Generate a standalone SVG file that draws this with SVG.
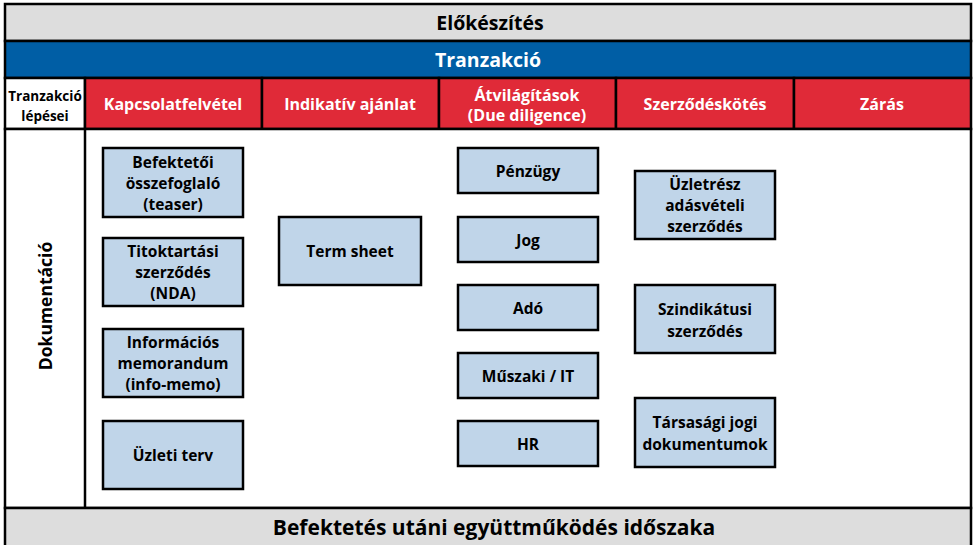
<svg xmlns="http://www.w3.org/2000/svg" width="973" height="545" viewBox="0 0 973 545">
<style>
text{font-family:"Open Sans",Lato,"Liberation Sans",sans-serif;font-weight:bold;text-anchor:middle;dominant-baseline:central}
.band{stroke:#000;stroke-width:2.5}
.hdr{fill:#E02A38;stroke:#000;stroke-width:2.5}
.hw{fill:#fff;font-size:16px}
.box rect{fill:#C0D5E9;stroke:#000;stroke-width:2.5}
.box text{fill:#000;font-size:15.5px}
.t{font-size:19.5px}
</style>
<rect width="973" height="545" fill="#fff"/>
<g id="elokeszites">
<rect class="band" x="5" y="4" width="966" height="37" fill="#DDDDDD"/>
<text class="t" x="490" y="22">Előkészítés</text>
</g>
<g id="tranzakcio">
<rect class="band" x="5" y="41" width="966" height="37" fill="#005EA5"/>
<text class="t" x="488" y="59" fill="#fff">Tranzakció</text>
</g>
<g id="header-row">
<rect x="5" y="78" width="80" height="51" fill="#fff" stroke="#000" stroke-width="2.5"/>
<text x="45" y="96" font-size="13.5">Tranzakció</text>
<text x="45" y="116" font-size="13.5">lépései</text>
<rect class="hdr" x="85" y="78" width="177" height="51"/>
<text class="hw" x="173" y="104">Kapcsolatfelvétel</text>
<rect class="hdr" x="262" y="78" width="177" height="51"/>
<text class="hw" x="350" y="104">Indikatív ajánlat</text>
<rect class="hdr" x="439" y="78" width="177" height="51"/>
<text class="hw" x="527" y="95">Átvilágítások</text>
<text class="hw" x="527" y="115">(Due diligence)</text>
<rect class="hdr" x="616" y="78" width="178" height="51"/>
<text class="hw" x="705" y="104">Szerződéskötés</text>
<rect class="hdr" x="794" y="78" width="177" height="51"/>
<text class="hw" x="882" y="104">Zárás</text>
</g>
<g id="body">
<rect x="5" y="129" width="966" height="379" fill="#fff" stroke="#000" stroke-width="2.5"/>
<line x1="85" y1="129" x2="85" y2="508" stroke="#000" stroke-width="2.5"/>
<text x="45" y="306" font-size="17.5" transform="rotate(-90 45 306)">Dokumentáció</text>
</g>
<g id="utani">
<rect class="band" x="5" y="508" width="966" height="40" fill="#DDDDDD"/>
<text class="t" x="494" y="527" style="font-size:21px">Befektetés utáni együttműködés időszaka</text>
</g>
<g id="connectors"></g>
<g id="n-teaser" class="box"><rect x="103" y="148" width="140" height="69"/><text x="173" y="162">Befektetői</text><text x="173" y="183">összefoglaló</text><text x="173" y="204">(teaser)</text></g>
<g id="n-nda" class="box"><rect x="103" y="238" width="140" height="68"/><text x="173" y="251">Titoktartási</text><text x="173" y="272">szerződés</text><text x="173" y="293">(NDA)</text></g>
<g id="n-infomemo" class="box"><rect x="103" y="329" width="140" height="68"/><text x="173" y="342">Információs</text><text x="173" y="363">memorandum</text><text x="173" y="384">(info-memo)</text></g>
<g id="n-uzleti-terv" class="box"><rect x="103" y="421" width="140" height="68"/><text x="173" y="455">Üzleti terv</text></g>
<g id="n-term-sheet" class="box"><rect x="279" y="217" width="142" height="68"/><text x="350" y="251">Term sheet</text></g>
<g id="n-penzugy" class="box"><rect x="458" y="148" width="140" height="45"/><text x="528" y="171">Pénzügy</text></g>
<g id="n-jog" class="box"><rect x="458" y="217" width="140" height="45"/><text x="528" y="240">Jog</text></g>
<g id="n-ado" class="box"><rect x="458" y="285" width="140" height="45"/><text x="528" y="308">Adó</text></g>
<g id="n-muszaki" class="box"><rect x="458" y="353" width="140" height="45"/><text x="528" y="376">Műszaki / IT</text></g>
<g id="n-hr" class="box"><rect x="458" y="421" width="140" height="45"/><text x="528" y="444">HR</text></g>
<g id="n-uzletresz" class="box"><rect x="635" y="171" width="140" height="68"/><text x="705" y="184">Üzletrész</text><text x="705" y="205">adásvételi</text><text x="705" y="226">szerződés</text></g>
<g id="n-szindikatusi" class="box"><rect x="635" y="285" width="140" height="68"/><text x="705" y="309">Szindikátusi</text><text x="705" y="331">szerződés</text></g>
<g id="n-tarsasagi" class="box"><rect x="635" y="398" width="140" height="69"/><text x="705" y="422">Társasági jogi</text><text x="705" y="444">dokumentumok</text></g>
</svg>
